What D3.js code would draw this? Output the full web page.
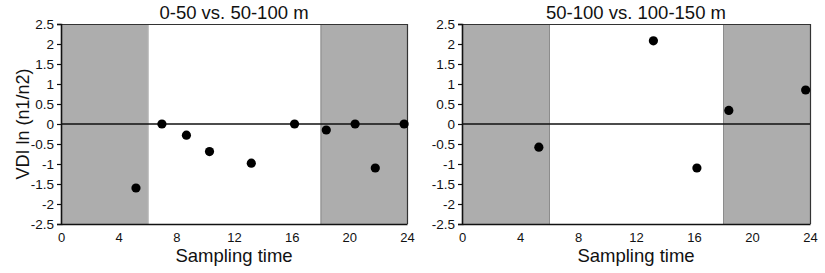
<!DOCTYPE html>
<html>
<head>
<meta charset="utf-8">
<script src="https://cdn.jsdelivr.net/npm/d3@7"></script>
<style>
  body { margin: 0; background: #fff; }
  svg { display: block; font-family: "Liberation Sans", Arial, Helvetica, sans-serif; }
</style>
</head>
<body>
<div id="chart"></div>
<script>
// VDI values per sampling time, two depth comparisons
const panelTitles = ["0-50 vs. 50-100 m", "50-100 vs. 100-150 m"];

const hoursA = [5.2, 7.0, 8.7, 10.3, 13.2, 16.2, 18.4, 20.4, 21.8, 23.8];
const vdiA = [-1.6, 0, -0.28, -0.69, -0.98, 0, -0.15, 0, -1.1, 0];

const hoursB = [5.3, 13.2, 16.2, 18.4, 23.7];
const vdiB = [-0.58, 2.08, -1.1, 0.34, 0.85];

// night periods (shaded)
const nightSpans = [[0, 6], [18, 24]];

const xTicks = [0, 4, 8, 12, 16, 20, 24];
const yTicks = [-2.5, -2, -1.5, -1, -0.5, 0, 0.5, 1, 1.5, 2, 2.5];

const W = 825, H = 273;
const svg = d3.select("#chart").append("svg").attr("width", W).attr("height", H);

const panels = [
  { left: 61, right: 407, title: panelTitles[0], hours: hoursA, vdi: vdiA },
  { left: 462, right: 810, title: panelTitles[1], hours: hoursB, vdi: vdiB },
];
const plotTop = 24, plotBottom = 224;

const y = d3.scaleLinear().domain([-2.5, 2.5]).range([plotBottom, plotTop]);
const fmt = (d) => String(d);

panels.forEach((p) => {
  const x = d3.scaleLinear().domain([0, 24]).range([p.left, p.right]);
  const g = svg.append("g");

  // shaded night blocks
  g.selectAll("rect.night")
    .data(nightSpans)
    .join("rect")
    .attr("class", "night")
    .attr("x", (d) => x(d[0]))
    .attr("y", plotTop)
    .attr("width", (d) => x(d[1]) - x(d[0]))
    .attr("height", plotBottom - plotTop)
    .attr("fill", "#adadad");

  // edges of shading at 6 and 18
  g.selectAll("line.edge")
    .data([6, 18])
    .join("line")
    .attr("class", "edge")
    .attr("x1", (d) => x(d) + 0.5)
    .attr("x2", (d) => x(d) + 0.5)
    .attr("y1", plotTop)
    .attr("y2", plotBottom)
    .attr("stroke", "#8c8c8c")
    .attr("stroke-width", 1);

  // top and right frame
  g.append("path")
    .attr("d", `M${p.left},${plotTop + 0.5}H${p.right + 0.5}V${plotBottom}`)
    .attr("fill", "none")
    .attr("stroke", "#333")
    .attr("stroke-width", 1.2);

  // zero line
  g.append("line")
    .attr("x1", x(0))
    .attr("x2", x(24))
    .attr("y1", y(0))
    .attr("y2", y(0))
    .attr("stroke", "#111")
    .attr("stroke-width", 1.6);

  // y axis
  const yAxis = g.append("g")
    .attr("transform", `translate(${p.left},0)`)
    .call(d3.axisLeft(y).tickValues(yTicks).tickFormat(fmt).tickSize(4).tickPadding(3));
  yAxis.select(".domain").attr("stroke", "#111").attr("stroke-width", 1.6);
  yAxis.selectAll(".tick line").attr("stroke", "#111").attr("stroke-width", 1.2);
  yAxis.selectAll("text")
    .attr("font-size", "13.5px")
    .attr("font-family", "Liberation Sans, Arial, sans-serif")
    .attr("fill", "#111");

  // x axis
  const xAxis = g.append("g")
    .attr("transform", `translate(0,${plotBottom})`)
    .call(d3.axisBottom(x).tickValues(xTicks).tickFormat(fmt).tickSize(0).tickPadding(8.5));
  xAxis.select(".domain").attr("stroke", "#111").attr("stroke-width", 1.6);
  xAxis.selectAll("text")
    .attr("font-size", "13px")
    .attr("font-family", "Liberation Sans, Arial, sans-serif")
    .attr("fill", "#111");

  // points
  g.selectAll("circle.pt")
    .data(p.hours.map((h, i) => ({ h, v: p.vdi[i] })))
    .join("circle")
    .attr("class", "pt")
    .attr("cx", (d) => x(d.h))
    .attr("cy", (d) => y(d.v))
    .attr("r", 4.6)
    .attr("fill", "#000");

  // title
  g.append("text")
    .attr("x", (p.left + p.right) / 2)
    .attr("y", 19)
    .attr("text-anchor", "middle")
    .attr("font-size", "18.5px")
    .attr("fill", "#111")
    .text(p.title);

  // x axis title
  g.append("text")
    .attr("x", (p.left + p.right) / 2)
    .attr("y", 261.5)
    .attr("text-anchor", "middle")
    .attr("font-size", "18.5px")
    .attr("fill", "#111")
    .text("Sampling time");
});

// y axis title
svg.append("text")
  .attr("transform", `translate(29,${(plotTop + plotBottom) / 2}) rotate(-90)`)
  .attr("text-anchor", "middle")
  .attr("font-size", "18px")
  .attr("fill", "#111")
  .text("VDI ln (n1/n2)");
</script>
</body>
</html>
